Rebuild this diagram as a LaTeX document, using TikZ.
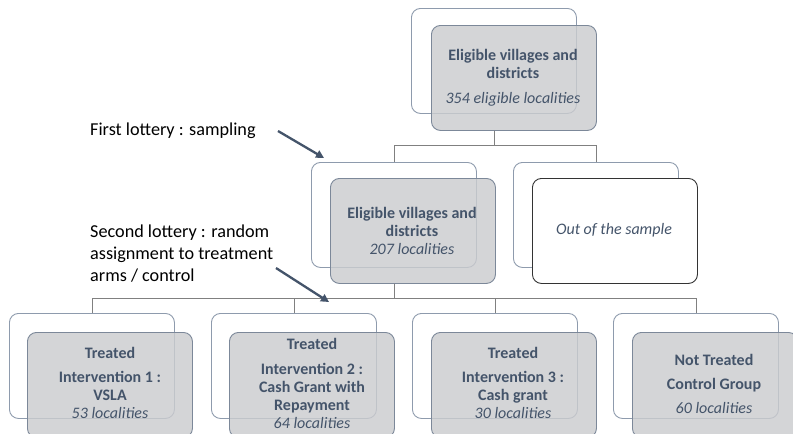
\documentclass[tikz,border=0pt]{standalone}
\usepackage{fontspec}
\setmainfont{Carlito}
\usetikzlibrary{arrows.meta}
\definecolor{txt}{HTML}{44546A}
\definecolor{backline}{HTML}{8E9BAD}
\definecolor{frontline}{HTML}{7C8899}
\definecolor{frontfill}{HTML}{CBCCCF}
\definecolor{conn}{HTML}{808080}
\begin{document}
\begin{tikzpicture}[x=1pt,y=-1pt,
  backbox/.style={draw=backline, line width=0.9pt, rounded corners=9pt, fill=white,
    minimum width=165pt, minimum height=105pt, inner sep=0pt, anchor=north west},
  frontbox/.style={draw=frontline, line width=0.9pt, rounded corners=9pt, fill=frontfill,
    fill opacity=0.82, minimum width=165pt, minimum height=105pt, inner sep=0pt, anchor=north west},
  whitebox/.style={draw=black!80, line width=0.9pt, rounded corners=9pt, fill=white,
    minimum width=165pt, minimum height=105pt, inner sep=0pt, anchor=north west},
  conn/.style={draw=conn, line width=0.9pt},
  bx/.style={font=\fontsize{16}{18}\selectfont, text=txt, align=center, inner sep=0pt},
  lbl/.style={font=\fontsize{18.2}{22}\selectfont, text=black, align=left, anchor=west, inner sep=0pt},
  lotarrow/.style={draw=txt, line width=2.3pt, -{Triangle[length=8pt,width=8pt]}}
]
\useasboundingbox (0,0) rectangle (793,434);
\clip (0,0) rectangle (793,434);
\fill[white] (0,0) rectangle (793,434);

% back boxes
\node[backbox] (b0) at (411,8) {};
\node[backbox] (b1) at (311,162) {};
\node[backbox] (b2) at (513,162) {};
\node[backbox] (b3) at (9,313) {};
\node[backbox] (b4) at (211,313) {};
\node[backbox] (b5) at (412,313) {};
\node[backbox] (b6) at (613,313) {};

% front boxes
\node[frontbox] (f0) at (431,25) {};
\node[frontbox] (f1) at (330,178) {};
\node[whitebox] (f2) at (532,178) {};
\node[frontbox] (f3) at (27,332) {};
\node[frontbox] (f4) at (229,332) {};
\node[frontbox] (f5) at (431,332) {};
\node[frontbox] (f6) at (632,332) {};

% connectors
\coordinate (s0) at (b0.south |- f0.south);
\draw[conn] (s0) -- ++(0,15) -| (b1.north);
\draw[conn] (s0) -- ++(0,15) -| (b2.north);
\coordinate (s1) at (b1.south |- f1.south);
\draw[conn] (s1) -- ++(0,15) -| (b3.north);
\draw[conn] (s1) -- ++(0,15) -| (b4.north);
\draw[conn] (s1) -- ++(0,15) -| (b5.north);
\draw[conn] (s1) -- ++(0,15) -| (b6.north);

% texts
\node[bx] (t0) at (513,77.5) {\textbf{Eligible villages and}\\\textbf{districts}\\[7pt]\textit{354 eligible localities}};
\node[bx] (t1) at (412,231) {\textbf{Eligible villages and}\\\textbf{districts}\\\textit{207 localities}};
\node[bx] (t2) at (614,230) {\textit{Out of the sample}};
\node[bx] (t3) at (110,383) {\textbf{Treated}\\[6pt]\textbf{Intervention 1 :}\\\textbf{VSLA}\\\textit{53 localities}};
\node[bx] (t4) at (312,383) {\textbf{Treated}\\[7pt]\textbf{Intervention 2 :}\\\textbf{Cash Grant with}\\\textbf{Repayment}\\\textit{64 localities}};
\node[bx] (t5) at (513,383) {\textbf{Treated}\\[6pt]\textbf{Intervention 3 :}\\\textbf{Cash grant}\\\textit{30 localities}};
\node[bx] (t6) at (714,383.5) {\textbf{Not Treated}\\[6pt]\textbf{Control Group}\\[6pt]\textit{60 localities}};

% lottery labels
\node[lbl] (l1) at (90,131) {First lottery : sampling};
\node[lbl] (l2) at (90,254) {Second lottery : random\\assignment to treatment\\arms / control};

\coordinate (a1s) at (278,131);
\coordinate (a1e) at (324,158);
\coordinate (a2s) at (276,268);
\coordinate (a2e) at (329,302);
\draw[lotarrow] (a1s) -- (a1e);
\draw[lotarrow] (a2s) -- (a2e);
\end{tikzpicture}
\end{document}
